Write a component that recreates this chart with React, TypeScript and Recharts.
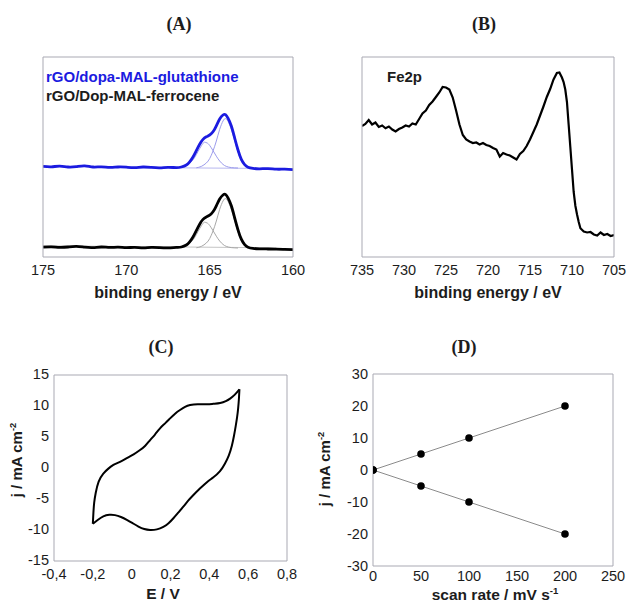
import React from 'react';
import { ComposedChart, Line, Scatter, XAxis, YAxis } from 'recharts';

const W = 631;
const H = 604;
const FONT = '"Liberation Sans", Arial, sans-serif';
const FRAME = '#a9a9b3';
const INK = '#1c1c1c';
const BLUE = '#1b1be0';

type Pt = { x: number; y: number };
const pts = (rows: number[][]): Pt[] => rows.map(([x, y]) => ({ x, y }));

// (A) S2p spectra, binding energy (eV) vs offset intensity (a.u.)
const glutTotal = pts([
  [175, 45.3], [174.5, 45.1], [174, 45.4], [173.5, 45.0], [173, 45.2], [172.5, 45.6], [172, 45.0],
  [171.5, 45.1], [171, 44.8], [170.5, 45.0], [170, 44.9], [169.5, 44.7], [169, 45.0], [168.5, 44.8],
  [168, 44.6], [167.5, 44.8], [167, 44.7], [166.7, 45.0], [166.4, 46.0], [166.2, 47.6], [166.0, 50.0],
  [165.8, 53.2], [165.6, 56.4], [165.4, 58.8], [165.2, 60.1], [165.0, 61.0], [164.8, 62.6], [164.6, 65.6],
  [164.4, 69.0], [164.2, 71.0], [164.05, 71.2], [163.9, 69.4], [163.7, 65.5], [163.5, 59.5], [163.3, 53.5],
  [163.1, 48.8], [162.9, 46.2], [162.7, 44.9], [162.4, 44.3], [162, 44.1], [161.5, 44.2], [161, 43.9],
  [160.5, 43.9], [160, 43.7],
]);
const glutFit1 = pts([
  [167, 44.6], [166.6, 45.0], [166.3, 46.2], [166.0, 48.6], [165.8, 51.2], [165.6, 54.2], [165.4, 56.8],
  [165.3, 57.4], [165.15, 57.0], [165.0, 55.8], [164.8, 53.2], [164.6, 50.4], [164.4, 48.0], [164.2, 46.3],
  [164.0, 45.3], [163.7, 44.7], [163.3, 44.5],
]);
const glutFit2 = pts([
  [165.8, 44.6], [165.5, 45.3], [165.2, 47.0], [165.0, 49.2], [164.8, 53.0], [164.6, 58.0], [164.4, 63.8],
  [164.2, 68.0], [164.05, 69.2], [163.9, 67.8], [163.7, 63.8], [163.5, 58.2], [163.3, 52.5], [163.1, 48.2],
  [162.9, 45.8], [162.6, 44.6], [162.2, 44.2],
]);
const glutBase = pts([[167.2, 44.6], [162, 44.3]]);

const ferroTotal = pts([
  [175, 4.9], [174.5, 5.1], [174, 4.8], [173.5, 5.0], [173, 5.3], [172.5, 4.9], [172, 4.7], [171.5, 5.0],
  [171, 4.8], [170.5, 4.9], [170, 4.7], [169.5, 4.8], [169, 4.6], [168.5, 4.8], [168, 4.7], [167.5, 4.6],
  [167, 4.8], [166.7, 5.0], [166.4, 6.0], [166.2, 7.6], [166.0, 10.0], [165.8, 13.2], [165.6, 16.4],
  [165.4, 18.8], [165.2, 20.0], [165.0, 20.9], [164.8, 22.6], [164.6, 25.6], [164.4, 29.0], [164.2, 31.0],
  [164.05, 31.3], [163.9, 29.6], [163.7, 25.6], [163.5, 19.6], [163.3, 13.6], [163.1, 8.9], [162.9, 6.2],
  [162.7, 4.9], [162.4, 4.3], [162, 4.1], [161.5, 4.0], [161, 3.9], [160.5, 3.8], [160, 3.7],
]);
const ferroFit1 = pts([
  [167, 4.6], [166.6, 5.0], [166.3, 6.2], [166.0, 8.6], [165.8, 11.2], [165.6, 14.2], [165.4, 16.8],
  [165.3, 17.4], [165.15, 17.0], [165.0, 15.8], [164.8, 13.2], [164.6, 10.4], [164.4, 8.0], [164.2, 6.3],
  [164.0, 5.3], [163.7, 4.7], [163.3, 4.5],
]);
const ferroFit2 = pts([
  [165.8, 4.6], [165.5, 5.3], [165.2, 7.0], [165.0, 9.2], [164.8, 13.0], [164.6, 18.0], [164.4, 23.8],
  [164.2, 28.0], [164.05, 29.2], [163.9, 27.8], [163.7, 23.8], [163.5, 18.2], [163.3, 12.5], [163.1, 8.2],
  [162.9, 5.8], [162.6, 4.6], [162.2, 4.2],
]);
const ferroBase = pts([[175, 5.6], [161, 4.6]]);

// (B) Fe2p spectrum
const fe2p = pts([
  [735, 5.24], [734.6, 5.32], [734.2, 5.48], [733.8, 5.3], [733.4, 5.38], [733.0, 5.2], [732.6, 5.26],
  [732.2, 5.15], [731.8, 5.22], [731.4, 5.1], [731.0, 5.02], [730.6, 5.12], [730.2, 5.18], [729.8, 5.26],
  [729.4, 5.22], [729.0, 5.34], [728.6, 5.3], [728.2, 5.52], [727.8, 5.74], [727.4, 5.86], [727.0, 6.08],
  [726.6, 6.22], [726.2, 6.4], [725.8, 6.58], [725.4, 6.8], [725.0, 6.78], [724.6, 6.7], [724.2, 6.38],
  [723.8, 5.86], [723.4, 5.3], [723.0, 4.88], [722.6, 4.7], [722.2, 4.62], [721.8, 4.56], [721.4, 4.58],
  [721.0, 4.5], [720.6, 4.56], [720.2, 4.48], [719.8, 4.44], [719.4, 4.36], [719.0, 4.3], [718.6, 4.02],
  [718.2, 4.16], [717.8, 4.1], [717.4, 4.06], [717.0, 3.98], [716.6, 3.9], [716.2, 4.12], [715.8, 4.24],
  [715.4, 4.44], [715.0, 4.7], [714.6, 5.0], [714.2, 5.3], [713.8, 5.66], [713.4, 6.02], [713.0, 6.4],
  [712.6, 6.72], [712.2, 7.1], [711.8, 7.36], [711.5, 7.38], [711.2, 7.18], [711.0, 7.0], [710.8, 6.7],
  [710.6, 6.2], [710.4, 5.3], [710.2, 4.4], [710.0, 3.5], [709.8, 2.6], [709.6, 2.05], [709.4, 1.7],
  [709.2, 1.4], [709.0, 1.15], [708.6, 1.02], [708.2, 0.98], [707.8, 1.0], [707.4, 0.9], [707.0, 0.86],
  [706.6, 0.98], [706.2, 0.88], [705.8, 0.92], [705.4, 0.84], [705.0, 0.88],
]);

// (C) cyclic voltammogram, E (V) vs j (mA cm-2)
const cvForward = pts([
  [-0.2, -9.0], [-0.197, -7.2], [-0.193, -5.6], [-0.185, -4.0], [-0.17, -2.2], [-0.146, -0.9], [-0.12, -0.1],
  [-0.094, 0.5], [-0.06, 1.0], [-0.025, 1.6], [0.01, 2.2], [0.043, 2.9], [0.07, 3.6], [0.095, 4.5],
  [0.12, 5.4], [0.146, 6.4], [0.172, 7.2], [0.198, 8.0], [0.225, 8.8], [0.249, 9.35], [0.275, 9.85],
  [0.301, 10.15], [0.34, 10.3], [0.387, 10.27], [0.42, 10.35], [0.456, 10.5], [0.485, 10.8], [0.507, 11.2],
  [0.53, 11.8], [0.555, 12.7],
]);
const cvReverse = pts([
  [0.555, 12.7], [0.552, 11.0], [0.548, 9.5], [0.543, 8.2], [0.536, 6.8], [0.527, 5.2], [0.516, 3.6],
  [0.5, 2.0], [0.48, 0.7], [0.455, -0.5], [0.421, -1.5], [0.395, -2.1], [0.37, -2.8], [0.345, -3.5],
  [0.318, -4.35], [0.29, -5.3], [0.267, -6.2], [0.24, -7.2], [0.215, -8.1], [0.19, -8.9], [0.163, -9.5],
  [0.13, -9.9], [0.095, -10.0], [0.065, -9.85], [0.035, -9.45], [0.005, -8.9], [-0.025, -8.35],
  [-0.055, -7.9], [-0.086, -7.6], [-0.115, -7.55], [-0.146, -7.8], [-0.175, -8.4], [-0.2, -9.0],
]);

// (D) peak current vs scan rate
const scanRates = [0, 50, 100, 200];
const anodicJ = [0, 5, 10, 20];
const cathodicJ = [0, -5, -10, -20];
const anodicFit = [0, 20];
const cathodicFit = [0, -20];
const fitRates = [0, 200];
const zipPts = (xs: number[], ys: number[]) => xs.map((x, i) => ({ x, y: ys[i] }));

const ticksA = [175, 170, 165, 160];
const ticksAY = [20, 40, 60, 80];
const ticksB = [735, 730, 725, 720, 715, 710, 705];
const ticksBY = [1, 2, 3, 4, 5, 6, 7];
const ticksCX = [-0.4, -0.2, 0, 0.2, 0.4, 0.6, 0.8];
const ticksCY = [-15, -10, -5, 0, 5, 10, 15];
const ticksDX = [0, 50, 100, 150, 200, 250];
const ticksDY = [-30, -20, -10, 0, 10, 20, 30];

const comma = (v: number) => (v === 0 ? '0' : v.toFixed(1).replace('.', ','));

type Box = { l: number; t: number; r: number; b: number };
const YW = 40;
const XH = 30;
const marginOf = (b: Box) => ({ top: b.t, left: b.l - YW, right: W - b.r, bottom: H - b.b - XH });

function frame(o: {
  xDom: number[]; xTicks: number[]; yDom: number[]; yTicks: number[];
  reversed?: boolean; yLabels?: boolean; xGap: number; yDy?: number; xFmt?: (v: number) => string;
}) {
  const line = { stroke: FRAME, strokeWidth: 1 };
  const tickText = { fontSize: 14.5, fill: INK, fontFamily: FONT };
  const common = { type: 'number' as const, allowDataOverflow: true, interval: 0 as const };
  return [
    <XAxis key="x" xAxisId="x" dataKey="x" {...common} domain={o.xDom} ticks={o.xTicks} reversed={o.reversed}
      height={XH} tickLine={false} tickSize={0} tickMargin={o.xGap} axisLine={line} tick={tickText}
      tickFormatter={o.xFmt} />,
    <XAxis key="xb" xAxisId="xb" {...common} orientation="bottom" mirror domain={o.xDom} ticks={o.xTicks}
      reversed={o.reversed} height={XH} tick={false} tickSize={4} tickLine={line} axisLine={false} />,
    <XAxis key="xt" xAxisId="xt" {...common} orientation="top" mirror domain={o.xDom} ticks={o.xTicks}
      reversed={o.reversed} height={XH} tick={false} tickSize={4} tickLine={line} axisLine={line} />,
    <YAxis key="y" yAxisId="y" dataKey="y" {...common} domain={o.yDom} ticks={o.yTicks} width={YW}
      tickLine={false} tickSize={0} tickMargin={5} axisLine={line}
      tick={o.yLabels === false ? false : { ...tickText, dy: o.yDy || 0 }} />,
    <YAxis key="yl" yAxisId="yl" {...common} orientation="left" mirror domain={o.yDom} ticks={o.yTicks}
      width={YW} tick={false} tickSize={4} tickLine={line} axisLine={false} />,
    <YAxis key="yr" yAxisId="yr" {...common} orientation="right" mirror domain={o.yDom} ticks={o.yTicks}
      width={YW} tick={false} tickSize={4} tickLine={line} axisLine={line} />,
  ];
}

const layer: React.CSSProperties = { position: 'absolute', left: 0, top: 0 };

function Txt(p: { x: number; y: number; size: number; bold?: boolean; serif?: boolean; color?: string;
  left?: boolean; rotate?: boolean; children: React.ReactNode }) {
  const tf = p.left ? 'translate(0,-50%)' : 'translate(-50%,-50%)' + (p.rotate ? ' rotate(-90deg)' : '');
  return (
    <div style={{
      position: 'absolute', left: p.x, top: p.y, transform: tf, whiteSpace: 'nowrap', lineHeight: 1,
      fontFamily: p.serif ? '"Liberation Serif", "Times New Roman", serif' : FONT,
      fontWeight: p.bold ? 700 : 400, fontSize: p.size, color: p.color || INK,
    }}>{p.children}</div>
  );
}

const sup = (s: string) => (
  <span style={{ fontSize: '0.62em', position: 'relative', top: '-0.6em' }}>{s}</span>
);

const boxA: Box = { l: 43, t: 57, r: 293, b: 257 };
const boxB: Box = { l: 362, t: 57, r: 614, b: 257 };
const boxC: Box = { l: 54, t: 375, r: 287, b: 561 };
const boxD: Box = { l: 373, t: 374, r: 613, b: 566 };

const ids = { xAxisId: 'x', yAxisId: 'y' };
const dotShape = (p: any) => <circle cx={p.cx} cy={p.cy} r={3.8} fill="#000" />;

export default function App() {
  return (
    <div style={{ position: 'absolute', left: 0, top: 0, width: W, height: H, background: '#fff', overflow: 'hidden' }}>
      <div style={layer}>
        <ComposedChart width={W} height={H} margin={marginOf(boxA)}>
          {frame({ xDom: [160, 175], xTicks: ticksA, yDom: [0, 100], yTicks: ticksAY, reversed: true, yLabels: false, xGap: 8 })}
          <Line {...ids} data={glutBase} dataKey="y" stroke="#b8b8f0" strokeWidth={1} dot={false} isAnimationActive={false} />
          <Line {...ids} data={glutFit1} dataKey="y" type="natural" stroke="#9c9cec" strokeWidth={1} dot={false} isAnimationActive={false} />
          <Line {...ids} data={glutFit2} dataKey="y" type="natural" stroke="#9c9cec" strokeWidth={1} dot={false} isAnimationActive={false} />
          <Line {...ids} data={glutTotal} dataKey="y" type="natural" stroke={BLUE} strokeWidth={2.8} dot={false} isAnimationActive={false} />
          <Line {...ids} data={ferroBase} dataKey="y" stroke="#c4c4c4" strokeWidth={1} dot={false} isAnimationActive={false} />
          <Line {...ids} data={ferroFit1} dataKey="y" type="natural" stroke="#a8a8a8" strokeWidth={1} dot={false} isAnimationActive={false} />
          <Line {...ids} data={ferroFit2} dataKey="y" type="natural" stroke="#a8a8a8" strokeWidth={1} dot={false} isAnimationActive={false} />
          <Line {...ids} data={ferroTotal} dataKey="y" type="natural" stroke="#000" strokeWidth={2.8} dot={false} isAnimationActive={false} />
        </ComposedChart>
      </div>
      <div style={layer}>
        <ComposedChart width={W} height={H} margin={marginOf(boxB)}>
          {frame({ xDom: [705, 735], xTicks: ticksB, yDom: [0, 8], yTicks: ticksBY, reversed: true, yLabels: false, xGap: 8 })}
          <Line {...ids} data={fe2p} dataKey="y" stroke="#000" strokeWidth={2.2} dot={false} isAnimationActive={false} />
        </ComposedChart>
      </div>
      <div style={layer}>
        <ComposedChart width={W} height={H} margin={marginOf(boxC)}>
          {frame({ xDom: [-0.4, 0.8], xTicks: ticksCX, yDom: [-15, 15], yTicks: ticksCY, xGap: 8, yDy: -1, xFmt: comma })}
          <Line {...ids} data={cvForward} dataKey="y" type="natural" stroke="#000" strokeWidth={2} dot={false} isAnimationActive={false} />
          <Line {...ids} data={cvReverse} dataKey="y" type="natural" stroke="#000" strokeWidth={2} dot={false} isAnimationActive={false} />
        </ComposedChart>
      </div>
      <div style={layer}>
        <ComposedChart width={W} height={H} margin={marginOf(boxD)}>
          {frame({ xDom: [0, 250], xTicks: ticksDX, yDom: [-30, 30], yTicks: ticksDY, xGap: 5 })}
          <Line {...ids} data={zipPts(fitRates, anodicFit)} dataKey="y" stroke="#8a8a8a" strokeWidth={1} dot={false} isAnimationActive={false} />
          <Line {...ids} data={zipPts(fitRates, cathodicFit)} dataKey="y" stroke="#8a8a8a" strokeWidth={1} dot={false} isAnimationActive={false} />
          <Scatter {...ids} data={zipPts(scanRates, anodicJ)} fill="#000" shape={dotShape} isAnimationActive={false} />
          <Scatter {...ids} data={zipPts(scanRates, cathodicJ)} fill="#000" shape={dotShape} isAnimationActive={false} />
        </ComposedChart>
      </div>

      <Txt x={179} y={24} size={18} bold serif>(A)</Txt>
      <Txt x={484} y={24} size={18} bold serif>(B)</Txt>
      <Txt x={161} y={347} size={18} bold serif>(C)</Txt>
      <Txt x={464} y={347} size={18} bold serif>(D)</Txt>

      <Txt x={46} y={76} size={15} bold left color={BLUE}>rGO/dopa-MAL-glutathione</Txt>
      <Txt x={46} y={95} size={15} bold left>rGO/Dop-MAL-ferrocene</Txt>
      <Txt x={387} y={76} size={15} bold left>Fe2p</Txt>

      <Txt x={168} y={293} size={16} bold>binding energy / eV</Txt>
      <Txt x={488} y={293} size={16} bold>binding energy / eV</Txt>
      <Txt x={163} y={594} size={15.5} bold>E / V</Txt>
      <Txt x={495} y={595} size={15.5} bold>scan rate / mV s{sup('-1')}</Txt>
      <Txt x={17} y={460} size={15} bold rotate>j / mA cm{sup('-2')}</Txt>
      <Txt x={325} y={469} size={15} bold rotate>j / mA cm{sup('-2')}</Txt>
    </div>
  );
}
